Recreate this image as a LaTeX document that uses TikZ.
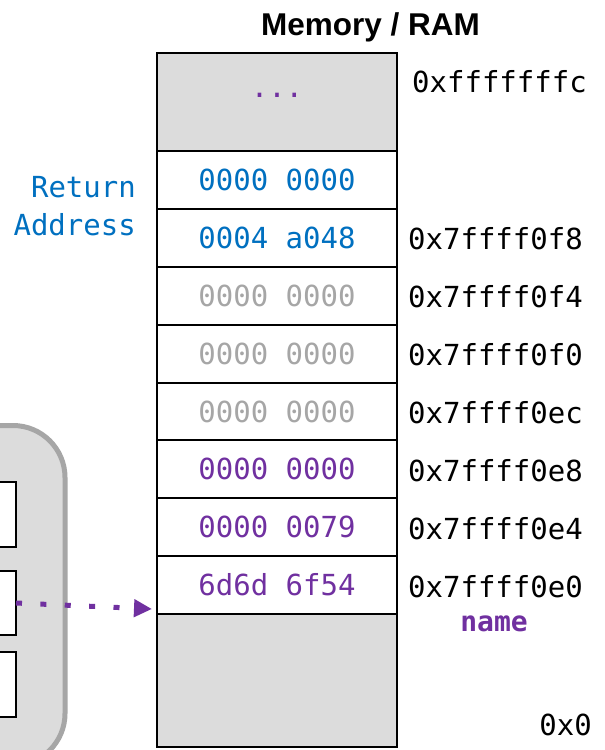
\documentclass[tikz,border=0pt]{standalone}
\usepackage{fontspec}
\setmainfont{Liberation Sans}
\setmonofont{DejaVu Sans Mono}
\usetikzlibrary{arrows.meta}
\definecolor{ablue}{HTML}{0070C0}
\definecolor{apurple}{HTML}{7030A0}
\definecolor{agray}{HTML}{A6A6A6}
\definecolor{afill}{HTML}{DCDCDC}
\begin{document}
\begin{tikzpicture}[x=1pt,y=-1pt,
  mono/.style={font=\fontsize{29}{38.5}\selectfont\ttfamily},
  cell/.style={draw=black,line width=2pt,minimum width=240pt,minimum height=57.875pt,inner sep=0pt,outer sep=0pt,mono},
  addr/.style={mono,text=black,anchor=base west,inner sep=0pt},
  slot/.style={draw=black,fill=white,line width=2pt,minimum width=76pt,inner sep=0pt,outer sep=0pt},
  ptr/.style={apurple,line width=5pt,dash pattern=on 6pt off 18.4pt,-{Triangle[length=18pt,width=17pt]}}
]
\useasboundingbox (0,0) rectangle (605,750);
\clip (0,0) rectangle (605,750);
\fill[white] (0,0) rectangle (605,750);

% title
\node[font=\fontsize{31.5}{33}\selectfont\bfseries,anchor=base,inner sep=0pt] (title) at (370.5,35.5) {Memory / RAM};

% memory column
\node[cell,fill=afill,minimum height=98pt] (top) at (277,102) {};
\node[mono,text=apurple,anchor=base,inner sep=0pt] (dots) at (277,97) {...};
\node[cell,text=ablue] (c1) at (277,179.94) {0000 0000};
\node[cell,text=ablue] (c2) at (277,237.81) {0004 a048};
\node[cell,text=agray] (c3) at (277,295.69) {0000 0000};
\node[cell,text=agray] (c4) at (277,353.56) {0000 0000};
\node[cell,text=agray] (c5) at (277,411.44) {0000 0000};
\node[cell,text=apurple] (c6) at (277,469.31) {0000 0000};
\node[cell,text=apurple] (c7) at (277,527.19) {0000 0079};
\node[cell,text=apurple] (c8) at (277,585.06) {6d6d 6f54};
\node[cell,fill=afill,minimum height=133pt] (bot) at (277,680.5) {};

% addresses
\node[addr] (a0) at (412,92) {0xfffffffc};
\node[addr] (a2) at (408,249.8) {0x7ffff0f8};
\node[addr] (a3) at (408,307.7) {0x7ffff0f4};
\node[addr] (a4) at (408,365.6) {0x7ffff0f0};
\node[addr] (a5) at (408,423.4) {0x7ffff0ec};
\node[addr] (a6) at (408,481.3) {0x7ffff0e8};
\node[addr] (a7) at (408,539.2) {0x7ffff0e4};
\node[addr] (a8) at (408,597.1) {0x7ffff0e0};
\node[font=\fontsize{28}{30}\selectfont\ttfamily\bfseries,text=apurple,anchor=base,inner sep=0pt] (nm) at (494,631.5) {name};
\node[mono,anchor=base east,inner sep=0pt] (zero) at (592,735) {0x0};

% return address label
\node[mono,text=ablue,align=right,anchor=east,inner sep=0pt] (ret) at (136,206) {Return\\Address};

% left object
\node[draw=agray,fill=afill,line width=5pt,rounded corners=52pt,minimum width=165pt,minimum height=340pt,inner sep=0pt,outer sep=0pt] (obj) at (-17.5,595.5) {};
\node[slot,minimum height=65pt] (b1) at (-22,514.5) {};
\node[slot,minimum height=64pt] (b2) at (-22,603) {};
\node[slot,minimum height=65pt] (b3) at (-22,684.5) {};

% pointer
\coordinate (tip) at (152,609);
\draw[ptr] (b2.east) -- (tip);
\end{tikzpicture}
\end{document}
